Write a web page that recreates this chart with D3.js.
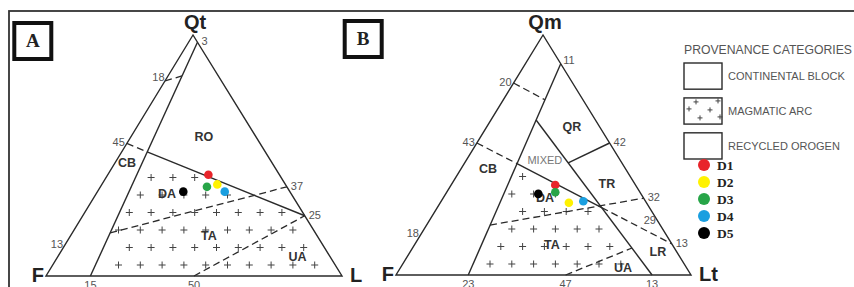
<!DOCTYPE html>
<html>
<head>
<meta charset="utf-8">
<script src="https://cdn.jsdelivr.net/npm/d3@7"></script>
<style>
body { margin: 0; background: #fff; }
svg { display: block; }
</style>
</head>
<body>
<svg id="chart" width="854" height="287"></svg>
<script>
// sample compositions in percent (third pole F = 100 - top - right)
var samples = ["D1", "D2", "D3", "D4", "D5"];
var sampleColors = ["#e8242a", "#fff200", "#27a548", "#1a9fe0", "#000000"];
var qflQt = [42, 38, 37, 35, 35];
var qflL = [34, 39, 36, 43, 29];
var qmfltQm = [37.5, 30.1, 34.5, 30.7, 33.8];
var qmfltLt = [35.3, 43.6, 36.8, 48.2, 31.4];

// field boundaries, each point is [top %, right %]
var qflLines = [
    { pts: [[97, 3], [0, 15]], dash: false },
    { pts: [[81, 0], [83, 4.7]], dash: true },
    { pts: [[55, 0], [51.5, 8.6]], dash: true },
    { pts: [[51.5, 8.6], [25, 75]], dash: false },
    { pts: [[17.9, 12.8], [37, 63]], dash: true },
    { pts: [[0, 50], [25, 75]], dash: true }
];
var qflArc = [[51.5, 8.6], [25, 75], [0, 100], [0, 15]];

var qmfltLines = [
    { pts: [[88, 12], [0, 24.5]], dash: false },
    { pts: [[80, 0], [73, 14.1]], dash: true },
    { pts: [[55, 0], [46.4, 17.9]], dash: true },
    { pts: [[46.4, 17.9], [28.1, 55.7]], dash: false },
    { pts: [[28.1, 55.7], [13, 87]], dash: true },
    { pts: [[64.6, 15.3], [0, 86.8]], dash: false },
    { pts: [[46.7, 35.1], [55, 45]], dash: false },
    { pts: [[20.8, 21.5], [32, 68]], dash: true },
    { pts: [[0, 57.5], [11.25, 74.4]], dash: true }
];
var qmfltArc = [[46.4, 17.9], [28.1, 55.7], [0, 86.8], [0, 24.5]];

// tick labels: text, top %, right %, side
var qflTicks = [
    ["3", 97, 3, "R"], ["37", 37, 63, "R"], ["25", 25, 75, "R"],
    ["18", 82, 0, "L"], ["45", 55, 0, "L"], ["13", 13, 0, "L"],
    ["15", 0, 15, "B"], ["50", 0, 50, "B"]
];
var qmfltTicks = [
    ["11", 89, 11, "R"], ["42", 55, 45, "R"], ["32", 32, 68, "R"], ["13", 13, 87, "R"],
    ["29", 23, 77, "I"],
    ["20", 80, 0, "L"], ["43", 55, 0, "L"], ["18", 17, 0, "L"],
    ["23", 0, 24.5, "B"], ["47", 0, 57.5, "B"], ["13", 0, 86.8, "B"]
];

// field names: text, top %, right %
var qflFields = [["RO", 58, 24.5], ["CB", 47, 4], ["DA", 34.4, 23.8], ["TA", 17, 46.6], ["UA", 8, 81]];
var qmfltFields = [["QR", 61.7, 28.9], ["CB", 44.2, 9.2], ["TR", 38.3, 52.4], ["DA", 32.1, 34.5],
                   ["TA", 12.9, 46.4], ["LR", 10, 83.8], ["UA", 3.3, 75.3]];

var legendBoxes = ["CONTINENTAL BLOCK", "MAGMATIC ARC", "RECYCLED OROGEN"];

var svg = d3.select("#chart");
var ink = "#2a2a2a";

function makeTernary(top, left, right) {
    var qx = d3.scaleLinear().domain([0, 100]).range([0, top[0] - left[0]]);
    var rx = d3.scaleLinear().domain([0, 100]).range([0, right[0] - left[0]]);
    var qy = d3.scaleLinear().domain([0, 100]).range([left[1], top[1]]);
    var ry = d3.scaleLinear().domain([0, 100]).range([0, right[1] - left[1]]);
    return function(q, r) { return [left[0] + qx(q) + rx(r), qy(q) + ry(r)]; };
}

// outer frame
svg.append("rect")
    .attr("x", 9).attr("y", 11).attr("width", 900).attr("height", 400)
    .attr("fill", "none").attr("stroke", "#333").attr("stroke-width", 1.8);

function drawPanel(o) {
    var t = makeTernary(o.top, o.left, o.right);
    var g = svg.append("g");

    // panel letter box
    g.append("rect")
        .attr("x", o.box[0]).attr("y", o.box[1]).attr("width", 37).attr("height", 36)
        .attr("fill", "#fff").attr("stroke", "#111").attr("stroke-width", 4);
    g.append("text")
        .attr("x", o.box[0] + 18.5).attr("y", o.box[1] + 24)
        .attr("text-anchor", "middle")
        .style("font", "bold 19px 'Liberation Serif', 'Times New Roman', serif")
        .attr("fill", "#222")
        .text(o.letter);

    // plus texture of the magmatic arc field
    var poly = o.arc.map(d => t(d[0], d[1]));
    var plusPts = [];
    for (var row = 0; row < 14; row++) {
        var y = o.left[1] - 11 - row * 17.5;
        var off = (row % 2) ? 10.8 : 0;
        for (var col = -2; col < 18; col++) {
            var x = o.left[0] + o.gridX + off + col * 21.8;
            var ok = [[x - 5, y], [x + 5, y], [x, y - 5], [x, y + 5]]
                .every(p => d3.polygonContains(poly, p));
            if (ok) plusPts.push([x, y]);
        }
    }
    g.selectAll("path.plus")
        .data(plusPts)
        .join("path")
        .attr("class", "plus")
        .attr("d", d => "M" + (d[0] - 3.5) + "," + d[1] + "h7M" + d[0] + "," + (d[1] - 3.5) + "v7")
        .attr("stroke", "#444").attr("stroke-width", 1);

    // triangle
    g.append("path")
        .attr("d", d3.line()([o.top, o.left, o.right]) + "Z")
        .attr("fill", "none").attr("stroke", ink).attr("stroke-width", 1.4);

    // boundaries
    g.selectAll("path.bound")
        .data(o.lines)
        .join("path")
        .attr("class", "bound")
        .attr("d", d => d3.line()(d.pts.map(p => t(p[0], p[1]))))
        .attr("fill", "none").attr("stroke", ink)
        .attr("stroke-width", d => d.dash ? 1.3 : 1.4)
        .attr("stroke-dasharray", d => d.dash ? "7,4" : null);

    // tick labels
    g.selectAll("text.tick")
        .data(o.ticks)
        .join("text")
        .attr("class", "tick")
        .each(function(d) {
            var p = t(d[1], d[2]);
            var s = d3.select(this);
            if (d[3] === "R") s.attr("x", p[0] + 4).attr("y", p[1] + 3).attr("text-anchor", "start");
            else if (d[3] === "L") s.attr("x", p[0] - 2).attr("y", p[1] + 3).attr("text-anchor", "end");
            else if (d[3] === "I") s.attr("x", p[0] - 1).attr("y", p[1] + 4).attr("text-anchor", "end");
            else s.attr("x", p[0]).attr("y", p[1] + 13).attr("text-anchor", "middle");
        })
        .style("font", "11px 'Liberation Sans', Arial, sans-serif")
        .attr("fill", "#555")
        .text(d => d[0]);

    // field names
    g.selectAll("text.field")
        .data(o.fields)
        .join("text")
        .attr("class", "field")
        .attr("x", d => t(d[1], d[2])[0])
        .attr("y", d => t(d[1], d[2])[1] + 4.5)
        .attr("text-anchor", "middle")
        .style("font", "bold 12.5px 'Liberation Sans', Arial, sans-serif")
        .attr("fill", "#333")
        .text(d => d[0]);

    if (o.mixed) {
        var m = t(o.mixed[0], o.mixed[1]);
        g.append("text")
            .attr("x", m[0]).attr("y", m[1] + 4)
            .attr("text-anchor", "middle")
            .style("font", "11px 'Liberation Sans', Arial, sans-serif")
            .attr("fill", "#777")
            .text("MIXED");
    }

    // pole names
    var poleFont = "bold 20px 'Liberation Sans', Arial, sans-serif";
    g.append("text").attr("x", o.top[0] + 2).attr("y", o.top[1] - 6)
        .attr("text-anchor", "middle").style("font", poleFont).attr("fill", "#222").text(o.poles[0]);
    g.append("text").attr("x", o.left[0] - 2).attr("y", o.left[1] + 6)
        .attr("text-anchor", "end").style("font", poleFont).attr("fill", "#222").text(o.poles[1]);
    g.append("text").attr("x", o.right[0] + 8).attr("y", o.right[1] + 6)
        .attr("text-anchor", "start").style("font", poleFont).attr("fill", "#222").text(o.poles[2]);

    // samples
    var pts = samples.map((s, i) => ({ name: s, color: sampleColors[i], p: t(o.q[i], o.r[i]) }));
    g.selectAll("circle.sample")
        .data(pts)
        .join("circle")
        .attr("class", "sample")
        .attr("cx", d => d.p[0]).attr("cy", d => d.p[1])
        .attr("r", 4.3)
        .attr("fill", d => d.color);
}

drawPanel({
    top: [193, 35], left: [46, 276], right: [342, 276],
    box: [14.3, 23], letter: "A", poles: ["Qt", "F", "L"],
    lines: qflLines, arc: qflArc, ticks: qflTicks, fields: qflFields,
    q: qflQt, r: qflL, gridX: 50.7
});

drawPanel({
    top: [543, 35], left: [396, 275], right: [691, 275],
    box: [344.7, 21], letter: "B", poles: ["Qm", "F", "Lt"],
    lines: qmfltLines, arc: qmfltArc, ticks: qmfltTicks, fields: qmfltFields,
    mixed: [47.9, 26.6],
    q: qmfltQm, r: qmfltLt, gridX: 94
});

// legend
var lg = svg.append("g");
lg.append("text")
    .attr("x", 684).attr("y", 53.5)
    .attr("textLength", 168).attr("lengthAdjust", "spacingAndGlyphs")
    .style("font", "12px 'Liberation Sans', Arial, sans-serif")
    .attr("fill", "#555")
    .text("PROVENANCE CATEGORIES");

var boxY = d3.scaleBand().domain(legendBoxes).range([63, 159]).paddingInner(0.25).paddingOuter(0);
lg.selectAll("rect.lbox")
    .data(legendBoxes)
    .join("rect")
    .attr("class", "lbox")
    .attr("x", 684).attr("y", d => boxY(d))
    .attr("width", 38).attr("height", boxY.bandwidth())
    .attr("fill", "none").attr("stroke", ink).attr("stroke-width", 1.4);
lg.selectAll("text.lbox")
    .data(legendBoxes)
    .join("text")
    .attr("class", "lbox")
    .attr("x", 728).attr("y", d => boxY(d) + boxY.bandwidth() / 2 + 4)
    .style("font", "11px 'Liberation Sans', Arial, sans-serif")
    .attr("fill", "#555")
    .text(d => d);

// plus marks inside the magmatic arc swatch
var arcBox = boxY("MAGMATIC ARC");
var swatchPlus = [[12, 4], [34, 3], [5, 11], [26, 12], [16, 20], [36, 19]];
lg.selectAll("path.splus")
    .data(swatchPlus)
    .join("path")
    .attr("class", "splus")
    .attr("d", d => "M" + (684 + d[0] - 2.5) + "," + (arcBox + d[1]) + "h5M" + (684 + d[0]) + "," + (arcBox + d[1] - 2.5) + "v5")
    .attr("stroke", "#444").attr("stroke-width", 1);

var dotY = d3.scalePoint().domain(samples).range([165, 233]);
lg.selectAll("circle.ldot")
    .data(samples)
    .join("circle")
    .attr("class", "ldot")
    .attr("cx", 704).attr("cy", d => dotY(d))
    .attr("r", 6)
    .attr("fill", (d, i) => sampleColors[i]);
lg.selectAll("text.ldot")
    .data(samples)
    .join("text")
    .attr("class", "ldot")
    .attr("x", 717).attr("y", d => dotY(d) + 5)
    .style("font", "bold 13.5px 'Liberation Serif', 'Times New Roman', serif")
    .attr("fill", "#222")
    .text(d => d);
</script>
</body>
</html>
